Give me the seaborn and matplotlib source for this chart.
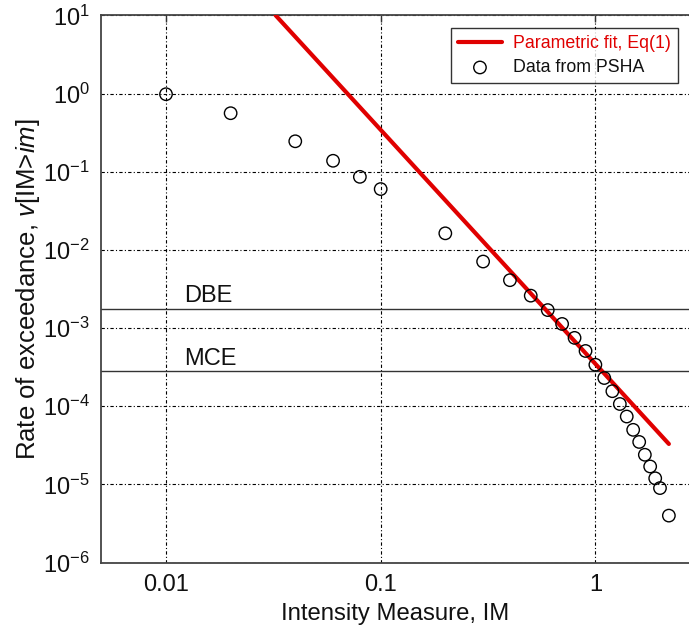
import numpy as np
import pandas as pd
import matplotlib
matplotlib.use("Agg")
import matplotlib.pyplot as plt
import matplotlib.ticker as mticker
import seaborn as sns

# Hazard curve points from the PSHA
im_data = [0.01, 0.02, 0.04, 0.06, 0.08, 0.1, 0.2, 0.3, 0.4, 0.5, 0.6, 0.7,
           0.8, 0.9, 1.0, 1.1, 1.2, 1.3, 1.4, 1.5, 1.6, 1.7, 1.8, 1.9, 2.0, 2.2]
rate_data = [0.98, 0.56, 0.245, 0.138, 0.086, 0.060, 0.0163, 0.0071, 0.0041,
             0.0026, 0.0017, 0.00113, 0.00075, 0.00051, 0.00034, 0.00023,
             0.000156, 0.000107, 7.4e-5, 5.0e-5, 3.5e-5, 2.4e-5, 1.7e-5,
             1.2e-5, 9.0e-6, 4.0e-6]

# Parametric fit, Eq(1): straight line in log-log space (end points)
fit_im = [0.0324, 2.2]
fit_rate = [10.0, 3.3e-5]

# Design levels
dbe_rate = 1.75e-3
mce_rate = 2.8e-4

x_ticks = [0.01, 0.1, 1]
x_tick_labels = ["0.01", "0.1", "1"]
y_ticks = [1e-6, 1e-5, 1e-4, 1e-3, 1e-2, 1e-1, 1e0, 1e1]

sns.set_style("white")
plt.rcParams["font.family"] = ["Liberation Sans", "DejaVu Sans"]
plt.rcParams["mathtext.fontset"] = "custom"
plt.rcParams["mathtext.rm"] = "Liberation Sans"
plt.rcParams["mathtext.it"] = "Liberation Sans:italic"
plt.rcParams["mathtext.bf"] = "Liberation Sans:bold"
plt.rcParams["axes.unicode_minus"] = False

fig = plt.figure(figsize=(6.89, 6.28), dpi=100)
ax = fig.add_axes([0.1466, 0.104, 0.8534, 0.8716])

pts = pd.DataFrame({"im": im_data, "rate": rate_data})
fit = pd.DataFrame({"im": fit_im, "rate": fit_rate})

ax.set_xscale("log")
ax.set_yscale("log")

sns.lineplot(data=fit, x="im", y="rate", ax=ax, color="#e00000", lw=3.0,
             label="Parametric fit, Eq(1)", zorder=3)
sns.scatterplot(data=pts, x="im", y="rate", ax=ax, marker="o", s=80,
                facecolor="none", edgecolor="black", linewidth=1.0,
                label="Data from PSHA", zorder=4)

for lvl in (dbe_rate, mce_rate):
    ax.axhline(lvl, color="#333333", lw=1.0, zorder=2)
ax.text(0.0121, dbe_rate * 1.05, "DBE", fontsize=17, ha="left", va="bottom",
        color="#111111")
ax.text(0.0121, mce_rate * 1.05, "MCE", fontsize=17, ha="left", va="bottom",
        color="#111111")

ax.set_xlim(0.00498, 2.73)
ax.set_ylim(1e-6, 10)

ax.xaxis.set_major_locator(mticker.FixedLocator(x_ticks))
ax.xaxis.set_major_formatter(mticker.FixedFormatter(x_tick_labels))
ax.xaxis.set_minor_locator(mticker.NullLocator())
ax.yaxis.set_major_locator(mticker.FixedLocator(y_ticks))
ax.yaxis.set_major_formatter(mticker.LogFormatterMathtext())
ax.yaxis.set_minor_locator(mticker.NullLocator())

ax.grid(True, which="major", color="black", lw=0.8,
        linestyle=(0, (3, 2, 1, 2)), zorder=1)
ax.set_axisbelow(True)

ax.tick_params(axis="both", which="major", direction="in", length=5,
               width=1.0, color="#333333", labelsize=17, top=True,
               right=False, pad=8, labelcolor="#111111")

for side in ("left", "bottom", "top"):
    ax.spines[side].set_color("#444444")
    ax.spines[side].set_linewidth(1.3)
ax.spines["right"].set_visible(False)

ax.set_xlabel("Intensity Measure, IM", fontsize=17.2, color="#111111",
              labelpad=5)
ax.set_ylabel(r"Rate of exceedance, $v$[IM>$im$]", fontsize=18.5,
              color="#111111", labelpad=1)

leg = ax.legend(loc="upper right", bbox_to_anchor=(0.981, 0.977),
                borderaxespad=0, fontsize=12.8, frameon=True, fancybox=False,
                handlelength=2.5, handletextpad=0.6, labelspacing=0.4,
                borderpad=0.4)
leg.get_frame().set_edgecolor("black")
leg.get_frame().set_linewidth(1.0)
for txt, col in zip(leg.get_texts(), ["#e00000", "#111111"]):
    txt.set_color(col)

fig.savefig("out.png", dpi=100)
